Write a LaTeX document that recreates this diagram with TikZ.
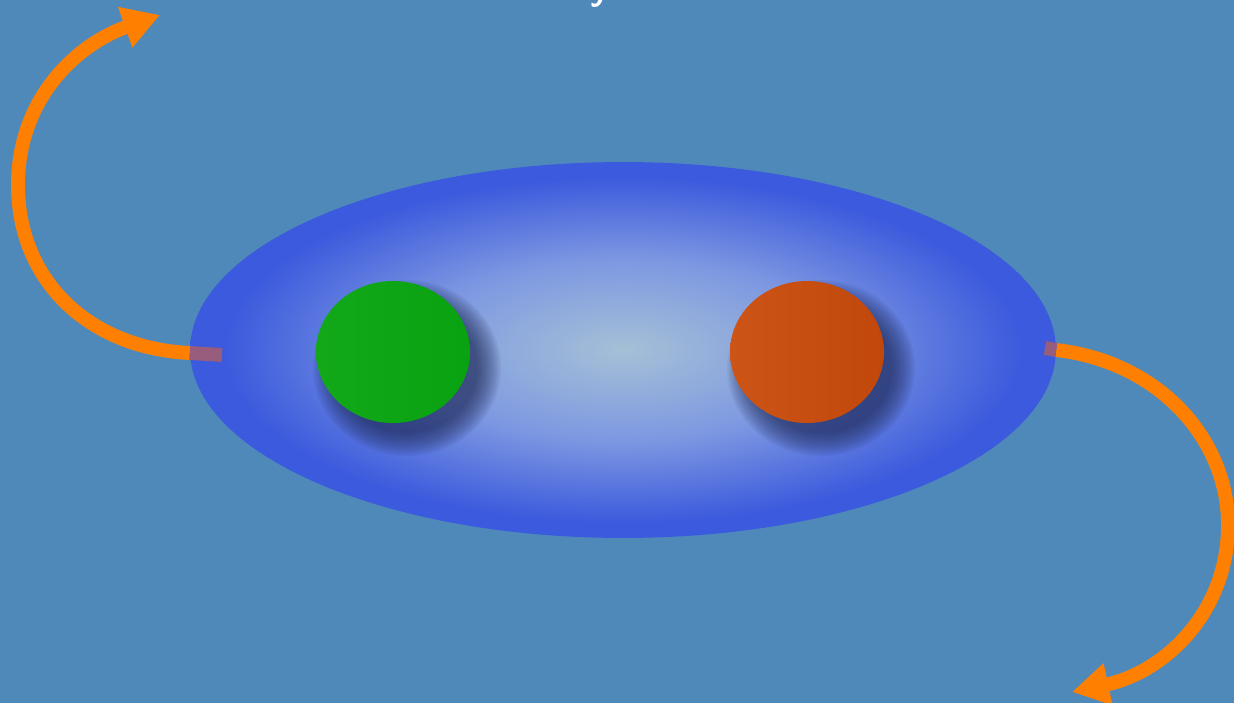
\documentclass[tikz,border=0pt]{standalone}
\usepackage{tikz}
\usetikzlibrary{arrows.meta,calc,shapes.geometric}
\definecolor{SkyBack}{RGB}{79,137,186}
\definecolor{CoreGlow}{RGB}{165,192,214}
\definecolor{MidBlue}{RGB}{125,152,225}
\definecolor{RimBlue}{RGB}{60,90,221}
\definecolor{GreenBall}{RGB}{9,162,16}
\definecolor{GreenLight}{RGB}{18,168,26}
\definecolor{RustBall}{RGB}{193,72,10}
\definecolor{RustLight}{RGB}{203,84,22}
\definecolor{ShadowNavy}{RGB}{25,35,80}
\definecolor{FlowOrange}{RGB}{255,128,0}
\definecolor{StubMauve}{RGB}{152,92,124}
\pgfdeclareradialshading{cloudy}{\pgfpoint{0bp}{0bp}}{color(0bp)=(CoreGlow); color(12bp)=(MidBlue); color(23bp)=(RimBlue); color(25bp)=(RimBlue); color(50bp)=(RimBlue)}
\tikzset{
  atom/.style={ellipse,minimum width=17.32cm,minimum height=7.52cm,inner sep=0pt,shading=cloudy},
  ball/.style={ellipse,minimum width=3.08cm,minimum height=2.84cm,inner sep=0pt},
  flow/.style={draw=FlowOrange,line width=7.9pt,-{Triangle[length=21pt,width=23pt]}},
  stub/.style={draw=StubMauve,line width=7.9pt}
}

\begin{document}
\begin{tikzpicture}[x=0.02cm,y=-0.02cm]
\fill[SkyBack] (0,0) rectangle (1234,703);
\clip (0,0) rectangle (1234,703);
\useasboundingbox (0,0) rectangle (1234,703);

% title, only its tail is in view
\node[anchor=base,text=white,font=\sffamily\bfseries\fontsize{22pt}{26pt}\selectfont] (title) at (600,-1) {y};

\node[atom] (atom) at (623,350) {};

% ends of the arrows
\coordinate (inL) at (222,355);
\coordinate (inR) at (1045,348);
\coordinate (rimL) at ($(atom.west)+(0,3)$);
\coordinate (rimR) at (atom.east);
\coordinate (outL) at (160,15);
\coordinate (outR) at (1072,692);

\draw[flow] (rimL) .. controls (88,348) and (18,280) .. (18,185)
  .. controls (18,100) and (75,45) .. (outL);
\draw[flow] (rimR) .. controls (1160,362) and (1228,440) .. (1228,525)
  .. controls (1228,612) and (1165,672) .. (outR);
\draw[stub] (inL) -- (rimL);
\draw[stub] (inR) -- (rimR);

% soft shadows under the balls
\foreach \k in {0,...,13}{
  \fill[ShadowNavy,opacity=0.065] ($(393,352)+(14,16)$) ellipse ({94-1.8*\k} and {88-1.8*\k});
  \fill[ShadowNavy,opacity=0.065] ($(807,352)+(14,16)$) ellipse ({94-1.8*\k} and {88-1.8*\k});
}

\node[ball,left color=GreenLight,right color=GreenBall] (green) at (393,352) {};
\node[ball,left color=RustLight,right color=RustBall] (rust) at (807,352) {};
\end{tikzpicture}
\end{document}
